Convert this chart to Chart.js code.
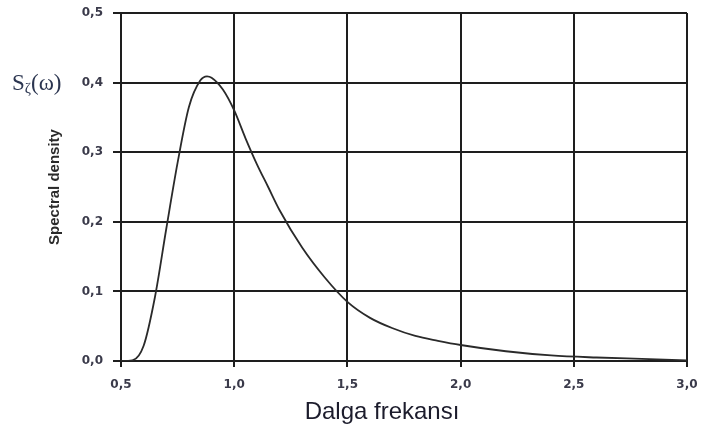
<!DOCTYPE html>
<html>
<head>
<meta charset="utf-8">
<script src="https://cdn.jsdelivr.net/npm/chart.js@4.4.1/dist/chart.umd.min.js"></script>
<style>
  html, body { margin: 0; padding: 0; background: #fff; }
  #wrap { position: relative; width: 702px; height: 437px; }
  #xt { position: absolute; left: 382px; top: 411px; transform: translate(-50%, -50%);
        font-family: "Liberation Sans", Arial, sans-serif; font-size: 24px; color: #1c1c2c; white-space: nowrap; }
  #sz { position: absolute; left: 12px; top: 83px; transform: translateY(-50%);
        font-family: "Liberation Serif", "DejaVu Serif", serif; font-size: 23px; color: #2b3550; white-space: nowrap; }
  #sz sub { font-size: 15px; vertical-align: -3px; }
</style>
</head>
<body>
<div id="wrap">
  <canvas id="c" width="702" height="437"></canvas>
  <div id="sz">S<sub>ζ</sub>(ω)</div>
  <div id="xt">Dalga frekansı</div>
</div>
<script>
const frequencies = [0.50, 0.55, 0.60, 0.65, 0.70, 0.75, 0.80, 0.85, 0.88, 0.90, 0.95, 1.00, 1.05, 1.10, 1.15, 1.20, 1.30, 1.40, 1.50, 1.60, 1.70, 1.80, 1.90, 2.00, 2.20, 2.40, 2.60, 2.80, 3.00];
const density     = [0.000, 0.001, 0.022, 0.092, 0.190, 0.285, 0.365, 0.403, 0.409, 0.407, 0.390, 0.360, 0.320, 0.283, 0.250, 0.217, 0.163, 0.120, 0.085, 0.062, 0.047, 0.036, 0.029, 0.023, 0.014, 0.008, 0.005, 0.003, 0.001];
const xTicks = [0.5, 1.0, 1.5, 2.0, 2.5, 3.0];
const yTicks = [0.0, 0.1, 0.2, 0.3, 0.4, 0.5];

const fmt = v => Number(v).toFixed(1).replace('.', ',');
const gridColor = '#1e1e1e';
const tickFont = { family: '"DejaVu Sans", Verdana, sans-serif', size: 12, weight: 'bold' };

new Chart(document.getElementById('c'), {
  type: 'line',
  data: {
    datasets: [{
      data: frequencies.map((f, i) => ({ x: f, y: density[i] })),
      borderColor: '#2a2a2a',
      borderWidth: 1.8,
      pointRadius: 0,
      fill: false,
      cubicInterpolationMode: 'monotone'
    }]
  },
  options: {
    responsive: false,
    animation: false,
    layout: { padding: { left: 0, top: 13, right: 15, bottom: 0 } },
    plugins: { legend: { display: false }, tooltip: { enabled: false } },
    scales: {
      x: {
        type: 'linear', min: xTicks[0], max: xTicks[xTicks.length - 1],
        afterBuildTicks: s => { s.ticks = xTicks.map(v => ({ value: v })); },
        afterFit: s => { s.height = 76; s.paddingLeft = 0; s.paddingRight = 0; },
        grid: { color: gridColor, lineWidth: 2, tickLength: 6, tickColor: gridColor },
        border: { display: true, color: gridColor, width: 2 },
        ticks: { callback: fmt, font: tickFont, color: '#3a3a4a', padding: 11, maxRotation: 0 }
      },
      y: {
        min: yTicks[0], max: yTicks[yTicks.length - 1],
        afterBuildTicks: s => { s.ticks = yTicks.map(v => ({ value: v })); },
        afterFit: s => { s.width = 121; s.paddingTop = 0; s.paddingBottom = 0; },
        grid: { color: gridColor, lineWidth: 2, tickLength: 8, tickColor: gridColor },
        border: { display: true, color: gridColor, width: 2 },
        ticks: { callback: fmt, font: tickFont, color: '#3a3a4a', padding: 10 },
        title: {
          display: true, text: 'Spectral density',
          font: { family: '"Liberation Sans", Arial, sans-serif', size: 15, weight: 'bold' },
          color: '#2a2a2a', padding: { top: 46, bottom: 0 }
        }
      }
    }
  }
});
</script>
</body>
</html>
